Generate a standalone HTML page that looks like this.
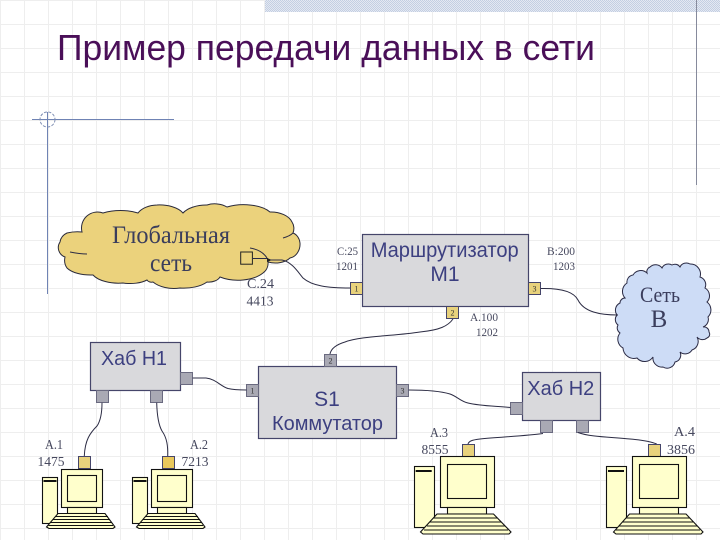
<!DOCTYPE html>
<html><head><meta charset="utf-8">
<style>
html,body{margin:0;padding:0;background:#fff;width:720px;height:540px;overflow:hidden}
svg{display:block}
.s{font-family:"Liberation Sans",sans-serif;fill:#3c3f80}
.r{font-family:"Liberation Serif",serif;fill:#3a3d5c}
.l{font-family:"Liberation Serif",serif;font-size:12px;fill:#46485e}
.m{font-family:"Liberation Serif",serif;font-size:13.5px;fill:#46485e}
.n{font-family:"Liberation Serif",serif;font-size:8px;fill:#333;text-anchor:middle}
.c{fill:none;stroke:#2c2c44;stroke-width:1}
.b{fill:#d9d9dc;stroke:#45456a;stroke-width:1.2}
.py{fill:#e8d27c;stroke:#45456a;stroke-width:1}
.pg{fill:#a9a9b4;stroke:#6a6a80;stroke-width:1}
.k{fill:#ffffcc;stroke:#111;stroke-width:1.1}
</style></head><body>
<svg width="720" height="540" viewBox="0 0 720 540" xmlns="http://www.w3.org/2000/svg">
<defs>
<pattern id="g" width="24" height="24" patternUnits="userSpaceOnUse"><path d="M0.5 0V24M0 0.5H24" fill="none" stroke="#eeeeee" stroke-width="1"/></pattern>
<pattern id="d" width="2" height="2" patternUnits="userSpaceOnUse"><rect width="2" height="2" fill="#e4e8f2"/><rect width="1" height="1" fill="#c3cfe2"/><rect x="1" y="1" width="1" height="1" fill="#c3cfe2"/></pattern>
</defs>
<rect width="720" height="540" fill="#fff"/>
<rect width="720" height="540" fill="url(#g)"/>
<rect x="265" y="0" width="455" height="12" fill="url(#d)"/>
<line x1="696.5" y1="0" x2="696.5" y2="185" stroke="#868a9c" stroke-width="1"/>
<line x1="47.5" y1="112" x2="47.5" y2="294" stroke="#6f83b4" stroke-width="1"/>
<line x1="32" y1="119.5" x2="174" y2="119.5" stroke="#6f83b4" stroke-width="1"/>
<circle cx="47.5" cy="119.5" r="7.5" fill="none" stroke="#7f8fb4" stroke-width="1" stroke-dasharray="3 1.5"/>

<text x="57" y="60" font-size="36" textLength="538" lengthAdjust="spacingAndGlyphs" font-family="'Liberation Sans',sans-serif" fill="#4a0f58">Пример передачи данных в сети</text>

<!-- global cloud -->
<path d="M60 242 A12 12 0 0 1 67 233 A30 20 0 0 1 82 232 A16 16 0 0 1 103 213 A36 20 0 0 1 138 213 A22 14 0 0 1 157 205 A26 14 0 0 1 183 213 A26 14 0 0 1 207 205 A18 12 0 0 1 227 207 A30 14 0 0 1 270 212 A22 14 0 0 1 292 222 A8 10 0 0 1 293 233 A10 12 0 0 1 300 243 A12 14 0 0 1 290 258 A18 12 0 0 1 268 262 A12 12 0 0 1 263 273 A30 16 0 0 1 220 277 A12 8 0 0 1 207 282 A28 14 0 0 1 180 288 A26 16 0 0 1 153 282 A5 4 0 0 1 147 280 A22 10 0 0 1 123 283 A28 14 0 0 1 93 275 A26 12 0 0 1 67 268 A10 12 0 0 1 65 257 A10 10 0 0 1 60 242 Z" fill="#ebd27c" stroke="#2a2a3a" stroke-width="1"/>
<path class="c" d="M70 252 Q80 254 87 254 M283 238 Q290 236 293 233 M250 248 Q262 250 267 258"/>
<rect x="240.7" y="252" width="11.7" height="12.2" fill="#ebd27c" stroke="#222" stroke-width="1"/>
<path d="M252 258.5H268" class="c"/>
<path d="M267 258 L272 260 L267 262 Z" fill="#222"/>
<path class="c" d="M270 260 H282 C292 262 298 272 303 278 C312 286 328 288 350 288"/>
<text class="r" font-size="25" x="112" y="243" textLength="118" lengthAdjust="spacingAndGlyphs">Глобальная</text>
<text class="r" font-size="25" x="150" y="271" textLength="42" lengthAdjust="spacingAndGlyphs">сеть</text>
<text class="m" x="247" y="288" textLength="27" lengthAdjust="spacingAndGlyphs">С.24</text>
<text class="m" x="246.5" y="305.5" textLength="27" lengthAdjust="spacingAndGlyphs">4413</text>

<!-- router -->
<rect class="b" x="362.5" y="234.5" width="166" height="72"/>
<text class="s" font-size="21" x="370.7" y="257" textLength="148" lengthAdjust="spacingAndGlyphs">Маршрутизатор</text>
<text class="s" font-size="21" x="445" y="281" text-anchor="middle">М1</text>
<rect class="py" x="350.5" y="282.5" width="12" height="12"/><text class="n" x="356.5" y="291.5">1</text>
<rect class="py" x="528.5" y="282.5" width="12" height="12"/><text class="n" x="534.5" y="291.5">3</text>
<rect class="py" x="446.5" y="306.5" width="12" height="12"/><text class="n" x="452.5" y="315.5">2</text>
<text class="l" x="337" y="255" textLength="21" lengthAdjust="spacingAndGlyphs">С:25</text>
<text class="l" x="336" y="270" textLength="22" lengthAdjust="spacingAndGlyphs">1201</text>
<text class="l" x="547" y="255" textLength="28" lengthAdjust="spacingAndGlyphs">В:200</text>
<text class="l" x="553" y="270" textLength="22" lengthAdjust="spacingAndGlyphs">1203</text>
<text class="l" x="470" y="321" textLength="28" lengthAdjust="spacingAndGlyphs">А.100</text>
<text class="l" x="476" y="336" textLength="22" lengthAdjust="spacingAndGlyphs">1202</text>

<!-- net B cloud -->
<path d="M617 315 A8 8 0 0 1 620 303 A5 5 0 0 1 625 298 A10 10 0 0 1 627 283 A7 7 0 0 1 633 275 A9 9 0 0 1 647 273 A5 5 0 0 1 650 267 A8 8 0 0 1 662 268 A7 7 0 0 1 672 265 A6 6 0 0 1 680 267 A7 7 0 0 1 690 264 A10 10 0 0 1 700 277 A8 8 0 0 1 705 288 A9 9 0 0 1 707 302 A10 10 0 0 1 708 317 A8 8 0 0 1 703 327 A5 5 0 0 1 709 332 A4 4 0 0 1 707 338 A7 7 0 0 1 697 337 A9 9 0 0 1 692 350 A8 8 0 0 1 680 352 A7 7 0 0 1 675 362 A8 8 0 0 1 663 367 A9 9 0 0 1 653 357 A10 10 0 0 1 637 358 A11 11 0 0 1 623 348 A10 10 0 0 1 620 333 A6 6 0 0 1 618 325 A7 7 0 0 1 617 315 Z" fill="#cddcf6" stroke="#2a2a44" stroke-width="1"/>
<text class="r" font-size="22" x="640" y="302" textLength="40" lengthAdjust="spacingAndGlyphs">Сеть</text>
<text class="r" font-size="25" x="659" y="327" text-anchor="middle">В</text>
<path class="c" d="M540.7 288.5 C562 288 574 292 578 300 C584 312 600 315 618 315"/>

<!-- connector router-switch -->
<path class="c" d="M453 319 C448 326 440 330 420 332 C395 336 360 336 345 342 C335 345 331 349 330 354"/>

<!-- switch -->
<rect class="b" x="258.5" y="366.5" width="138" height="72"/>
<rect class="pg" x="324.5" y="354.5" width="12" height="12"/><text class="n" x="330.5" y="363.5">2</text>
<rect class="pg" x="246.5" y="384.5" width="12" height="12"/><text class="n" x="252.5" y="393.5">1</text>
<rect class="pg" x="396.5" y="384.5" width="12" height="12"/><text class="n" x="402.5" y="393.5">3</text>
<text class="s" font-size="21" x="327" y="406" text-anchor="middle">S1</text>
<text class="s" font-size="20" x="272" y="430" textLength="111" lengthAdjust="spacingAndGlyphs">Коммутатор</text>

<!-- hub 1 -->
<rect class="b" x="90.5" y="342.5" width="90" height="48"/>
<text class="s" font-size="20" x="101" y="365" textLength="66" lengthAdjust="spacingAndGlyphs">Хаб Н1</text>
<rect class="pg" x="180.5" y="372.5" width="12" height="12"/>
<rect class="pg" x="96.5" y="390.5" width="12" height="12"/>
<rect class="pg" x="150.5" y="390.5" width="12" height="12"/>
<path class="c" d="M192.7 378 H206 C216 379 220 386 228 388.5 C234 390 240 390 246.5 390"/>
<path class="c" d="M102 402.7 C102 412 101 420 97 426 C90 433 85 440 84.3 456"/>
<path class="c" d="M156.7 402.7 C157 414 158 424 162 431 C167 438 168 446 167.7 456"/>

<!-- hub 2 -->
<rect class="b" x="522.5" y="372.5" width="78" height="48"/>
<text class="s" font-size="20" x="527.3" y="395" textLength="67" lengthAdjust="spacingAndGlyphs">Хаб Н2</text>
<rect class="pg" x="510.5" y="402.5" width="12" height="12"/>
<rect class="pg" x="540.5" y="420.5" width="12" height="12"/>
<rect class="pg" x="576.5" y="420.5" width="12" height="12"/>
<path class="c" d="M408.7 390 C425 390 440 391 450 394 C458 397 460 401 468 403 C480 406 495 406 510.5 407.5"/>
<path class="c" d="M543 433.5 C525 436 500 437 480 439 C472 440 469 441 468 444"/>
<path class="c" d="M578 432.5 C590 437 610 437 630 439 C642 440 652 442 656.7 444"/>

<!-- PC1 -->
<g>
<rect class="py" x="78.5" y="456.5" width="12" height="12"/>
<rect class="k" x="42.5" y="477.5" width="15" height="46"/><rect x="43.5" y="480" width="13" height="2" fill="#111"/>
<rect class="k" x="61.5" y="469.5" width="41" height="38"/><rect class="k" x="67.5" y="475.5" width="29" height="26"/>
<rect class="k" x="67.5" y="507.5" width="29" height="6"/>
<path class="k" d="M58 513.5 H105 L115 527 L113 528.5 H49 L46.5 527 Z"/>
<path class="c" style="stroke:#111" d="M55 516.5H108M52.5 519.5H110M50 522.5H112M48.5 525.5H113"/>
</g>
<!-- PC2 -->
<g transform="translate(90,0)">
<rect class="py" x="72.5" y="456.5" width="12" height="12" style="fill:#e9c85c"/>
<rect class="k" x="42.5" y="477.5" width="15" height="46"/><rect x="43.5" y="480" width="13" height="2" fill="#111"/>
<rect class="k" x="61.5" y="469.5" width="41" height="38"/><rect class="k" x="67.5" y="475.5" width="29" height="26"/>
<rect class="k" x="67.5" y="507.5" width="29" height="6"/>
<path class="k" d="M58 513.5 H105 L115 527 L113 528.5 H49 L46.5 527 Z"/>
<path class="c" style="stroke:#111" d="M55 516.5H108M52.5 519.5H110M50 522.5H112M48.5 525.5H113"/>
</g>
<!-- PC3 -->
<g>
<rect class="py" x="462.5" y="444.5" width="12" height="12"/>
<rect class="k" x="414.5" y="466.5" width="20" height="61"/><rect x="415.7" y="470" width="16" height="2" fill="#111"/>
<rect class="k" x="440.5" y="456.5" width="54" height="51"/><rect class="k" x="447.5" y="464.5" width="39" height="34"/>
<rect class="k" x="447.5" y="507.5" width="39" height="6.5"/>
<path class="k" d="M437 514 H493.5 L511 532 L509 534 H423 L420.5 532 Z"/>
<path class="c" style="stroke:#111" d="M433 518H497M430 522H501M427 526H505M424 530H508"/>
</g>
<!-- PC4 -->
<g>
<rect class="py" x="648.5" y="444.5" width="12" height="12"/>
<rect class="k" x="606.5" y="466.5" width="20" height="61"/><rect x="608" y="470" width="16" height="2" fill="#111"/>
<rect class="k" x="632.5" y="456.5" width="54" height="51"/><rect class="k" x="639.5" y="464.5" width="39" height="34"/>
<rect class="k" x="639.5" y="507.5" width="39" height="6.5"/>
<path class="k" d="M629.5 514 H686 L703 532 L701 534 H616 L613.5 532 Z"/>
<path class="c" style="stroke:#111" d="M626 518H690M622 522H693M619 526H697M616 530H700"/>
</g>

<text class="m" x="45" y="449" textLength="18" lengthAdjust="spacingAndGlyphs">А.1</text>
<text class="m" x="37.5" y="466" textLength="27" lengthAdjust="spacingAndGlyphs">1475</text>
<text class="m" x="190" y="449" textLength="18" lengthAdjust="spacingAndGlyphs">А.2</text>
<text class="m" x="181.5" y="466" textLength="27" lengthAdjust="spacingAndGlyphs">7213</text>
<text class="m" x="430" y="437" textLength="18" lengthAdjust="spacingAndGlyphs">А.3</text>
<text class="m" x="421.5" y="454" textLength="27" lengthAdjust="spacingAndGlyphs">8555</text>
<text class="m" x="674" y="436" textLength="21" lengthAdjust="spacingAndGlyphs">А.4</text>
<text class="m" x="667" y="454" textLength="28" lengthAdjust="spacingAndGlyphs">3856</text>
</svg>
</body></html>
